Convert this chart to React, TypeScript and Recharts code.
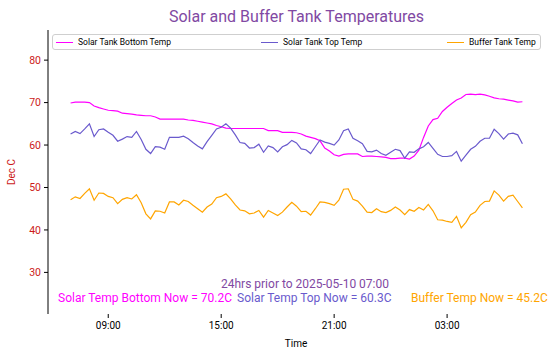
import { LineChart, Line, XAxis, YAxis } from "recharts";

// 15-minute readings over 24h, starting 2025-05-09 07:00
const STEP_HOURS = 0.25;

const bottomTemp = [
  69.9, 70.1, 70.1, 70.1, 70.0, 69.2, 68.8, 68.5, 68.2, 68.1,
  68.0, 67.5, 67.4, 67.3, 67.1, 67.0, 66.9, 66.9, 66.6, 66.1,
  66.1, 66.1, 66.1, 66.1, 66.1, 65.9, 65.8, 65.6, 65.4, 65.2,
  65.0, 64.6, 64.3, 64.0, 63.9, 63.9, 63.9, 63.9, 63.9, 63.9,
  63.9, 63.9, 63.4, 63.4, 63.4, 63.0, 63.0, 63.0, 62.9, 62.6,
  62.1, 61.8, 61.5, 61.0, 59.3, 58.6, 57.7, 57.4, 57.8, 57.9,
  57.9, 57.9, 57.3, 57.4, 57.4, 57.3, 57.2, 57.1, 56.8, 56.8,
  56.9, 56.9, 56.7, 57.4, 58.8, 61.8, 64.5, 66.0, 66.3, 67.9,
  68.9, 69.8, 70.6, 71.1, 71.9, 72.0, 71.9, 72.0, 71.8, 71.5,
  71.1, 70.9, 70.8, 70.6, 70.4, 70.1, 70.2,
];

const topTemp = [
  62.6, 63.2, 62.7, 63.8, 65.0, 62.0, 63.6, 63.8, 63.0, 62.3,
  60.9, 61.4, 62.0, 61.8, 63.2, 61.3, 59.0, 58.0, 59.6, 59.5,
  59.0, 61.8, 61.8, 61.8, 62.1, 61.5, 60.6, 59.8, 59.1, 60.8,
  62.3, 63.8, 64.2, 65.0, 64.0, 62.4, 60.6, 60.4, 59.3, 59.4,
  60.2, 58.3, 59.8, 59.4, 58.4, 59.6, 60.1, 61.1, 60.5, 59.1,
  58.9, 58.0, 59.6, 61.2, 60.7, 60.4, 60.0, 61.2, 63.4, 63.8,
  61.6, 61.0, 60.3, 58.5, 58.4, 58.8, 58.0, 57.6, 58.3, 59.0,
  58.7, 56.9, 58.4, 58.3, 59.1, 59.6, 60.6, 59.2, 57.8, 57.3,
  57.3, 57.5, 58.5, 56.2, 57.6, 59.0, 59.7, 60.9, 61.6, 61.6,
  63.7, 62.7, 61.4, 62.6, 62.8, 62.4, 60.3,
];

const bufferTemp = [
  47.1, 47.8, 47.4, 48.6, 49.7, 47.0, 48.7, 48.6, 47.9, 47.6,
  46.2, 47.2, 47.6, 47.3, 48.3, 46.4, 43.8, 42.6, 44.5, 44.4,
  44.0, 46.6, 46.6, 45.9, 47.0, 46.7, 45.8, 45.0, 44.2, 45.4,
  46.1, 47.6, 47.9, 48.5, 47.3, 45.9, 44.7, 44.5, 43.8, 44.0,
  44.6, 43.0, 44.6, 44.0, 43.4, 44.2, 45.4, 46.5, 45.6, 44.3,
  44.4, 43.5, 45.0, 46.6, 46.5, 46.2, 45.8, 47.0, 49.6, 49.7,
  47.2, 46.8, 45.6, 44.2, 44.1, 45.0, 44.3, 44.1, 44.6, 45.4,
  44.7, 43.6, 44.8, 44.4, 45.3, 44.7, 46.0, 44.5, 42.4, 42.3,
  42.0, 41.8, 43.2, 40.5, 41.8, 43.6, 44.2, 45.8, 46.7, 46.8,
  49.2, 48.2, 46.8, 47.9, 48.2, 46.7, 45.2,
];

const seriesNames = ["Solar Tank Bottom Temp", "Solar Tank Top Temp", "Buffer Tank Temp"];
const seriesColors = ["#ff00ff", "#6a5acd", "#ffa500"];

// hours after 07:00
const xTicks = [2, 8, 14, 20];
const xTickLabels = ["09:00", "15:00", "21:00", "03:00"];
const yTicks = [30, 40, 50, 60, 70, 80];

const data = bottomTemp.map((v, i) => ({
  t: i * STEP_HOURS,
  bottom: v,
  top: topTemp[i],
  buffer: bufferTemp[i],
}));

const FONT = "Roboto, 'DejaVu Sans', sans-serif";
const PURPLE = "#8149a3";
const RED = "#cc1a1a";

function LegendBox() {
  const offsets = [3, 208, 394];
  return (
    <div
      style={{
        position: "absolute",
        left: 52,
        top: 34,
        width: 489,
        height: 16,
        border: "1px solid #cfcfcf",
        borderRadius: 3,
        boxSizing: "border-box",
        background: "rgba(255,255,255,0.8)",
        fontFamily: FONT,
        fontSize: 8.5,
        color: "#000",
      }}
    >
      {seriesNames.map((name, i) => (
        <div
          key={name}
          style={{
            position: "absolute",
            left: offsets[i],
            top: 0,
            height: 14,
            display: "flex",
            alignItems: "center",
            whiteSpace: "nowrap",
          }}
        >
          <span
            style={{
              display: "inline-block",
              width: 17,
              height: 1,
              background: seriesColors[i],
              marginRight: 5,
            }}
          />
          {name}
        </div>
      ))}
    </div>
  );
}

export default function App() {
  return (
    <div
      style={{
        position: "absolute",
        left: 0,
        top: 0,
        width: 558,
        height: 358,
        background: "#fff",
        fontFamily: FONT,
      }}
    >
      <div
        style={{
          position: "absolute",
          left: 0,
          width: 593,
          top: 8,
          textAlign: "center",
          fontSize: 16,
          lineHeight: "18px",
          color: PURPLE,
        }}
      >
        Solar and Buffer Tank Temperatures
      </div>
      <LineChart
        width={558}
        height={358}
        data={data}
        margin={{ top: 30, right: 13, bottom: 14, left: 0 }}
      >
        <XAxis
          dataKey="t"
          type="number"
          domain={[-1.2, 25.2]}
          ticks={xTicks}
          tickFormatter={(v) => xTickLabels[xTicks.indexOf(v)] ?? ""}
          axisLine={false}
          tickLine={{ stroke: "#000" }}
          tickSize={4}
          tickMargin={4}
          height={30}
          tick={{ fill: "#000", fontSize: 10, fontFamily: FONT }}
          label={{
            content: () => (
              <text x={296} y={347} textAnchor="middle" fontSize={10} fill="#000" fontFamily={FONT}>
                Time
              </text>
            ),
          }}
        />
        <YAxis
          width={48}
          domain={[20.2, 87.1]}
          ticks={yTicks}
          allowDataOverflow
          axisLine={{ stroke: "#000" }}
          tickLine={{ stroke: "#000" }}
          tickSize={4}
          tickMargin={3}
          tick={{ fill: RED, fontSize: 10.5, fontFamily: FONT }}
          label={{
            content: () => (
              <text
                x={15}
                y={172}
                transform="rotate(-90 15 172)"
                textAnchor="middle"
                fontSize={10}
                fill={RED}
                fontFamily={FONT}
              >
                Dec C
              </text>
            ),
          }}
        />
        <Line dataKey="bottom" name={seriesNames[0]} stroke={seriesColors[0]} strokeWidth={1.2} dot={false} isAnimationActive={false} />
        <Line dataKey="top" name={seriesNames[1]} stroke={seriesColors[1]} strokeWidth={1.2} dot={false} isAnimationActive={false} />
        <Line dataKey="buffer" name={seriesNames[2]} stroke={seriesColors[2]} strokeWidth={1.2} dot={false} isAnimationActive={false} />
      </LineChart>
      <LegendBox />
      <div
        style={{
          position: "absolute",
          left: 0,
          width: 610,
          top: 277,
          textAlign: "center",
          fontSize: 12,
          lineHeight: "14px",
          color: PURPLE,
          whiteSpace: "nowrap",
        }}
      >
        24hrs prior to 2025-05-10 07:00
      </div>
      <div style={{ position: "absolute", left: 58, top: 291, fontSize: 12, lineHeight: "14px", color: seriesColors[0], whiteSpace: "nowrap" }}>
        Solar Temp Bottom Now = 70.2C
      </div>
      <div style={{ position: "absolute", left: 237, top: 291, fontSize: 12, lineHeight: "14px", color: seriesColors[1], whiteSpace: "nowrap" }}>
        Solar Temp Top Now = 60.3C
      </div>
      <div style={{ position: "absolute", left: 411, top: 291, fontSize: 12, lineHeight: "14px", color: seriesColors[2], whiteSpace: "nowrap" }}>
        Buffer Temp Now = 45.2C
      </div>
    </div>
  );
}
